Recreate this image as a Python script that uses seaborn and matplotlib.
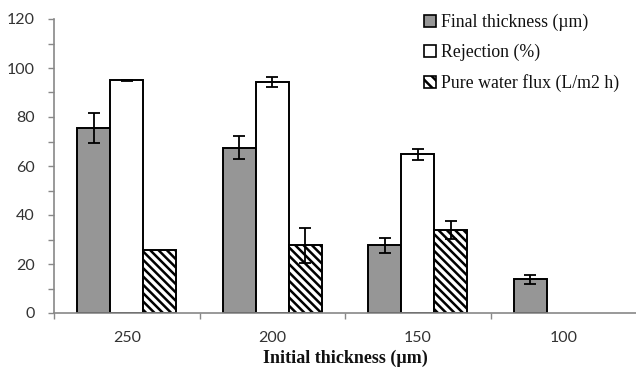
import matplotlib
matplotlib.use("Agg")
import matplotlib.pyplot as plt
import seaborn as sns
import numpy as np
import pandas as pd
from matplotlib.ticker import MultipleLocator, FixedLocator
from matplotlib.patches import Patch, Rectangle

categories = ["250", "200", "150", "100"]
series = ["Final thickness (\u00b5m)", "Rejection (%)", "Pure water flux (L/m2 h)"]
final_thickness = [75.5, 67.5, 27.6, 13.8]
final_err = [6.1, 4.6, 3.2, 1.9]
rejection = [94.9, 94.3, 64.8, np.nan]
rejection_err = [0.3, 2.2, 2.2, np.nan]
flux = [25.6, 27.6, 34.0, np.nan]
flux_err = [0.0, 7.2, 3.7, np.nan]

rows = []
for vals, errs, name in [(final_thickness, final_err, series[0]),
                         (rejection, rejection_err, series[1]),
                         (flux, flux_err, series[2])]:
    for c, v, e in zip(categories, vals, errs):
        if not np.isnan(v):
            rows.append({"cat": c, "series": name, "value": v, "err": e})
df = pd.DataFrame(rows)

sns.set_theme(style="white")
plt.rcParams["font.family"] = ["Liberation Serif", "DejaVu Serif"]
plt.rcParams["hatch.linewidth"] = 1.8

fig = plt.figure(figsize=(6.36, 3.70), dpi=100)
ax = fig.add_axes([54/636, 1 - 313/370, 1 - 54/636, (313 - 19)/370])

W = 0.68
sns.barplot(data=df, x="cat", y="value", hue="series", order=categories,
            hue_order=series, width=W, errorbar=None, ax=ax,
            palette=["#969696", "white", "white"], saturation=1,
            edgecolor="black", linewidth=1.4, legend=False)

HATCH = "\\\\\\\\"
hatches = [None, None, HATCH]
for bar in list(ax.patches):
    if not isinstance(bar, Rectangle) or bar.get_height() <= 0:
        continue
    xc = bar.get_x() + bar.get_width() / 2
    ci = int(round(xc))
    si = int(round((xc - ci) / (W / 3))) + 1
    if si < 0 or si > 2:
        continue
    if hatches[si]:
        bar.set_hatch(hatches[si])
    sub = df[(df["series"] == series[si]) & (df["cat"] == categories[ci])]
    if len(sub) == 0:
        continue
    e = float(sub["err"].iloc[0])
    if e > 0:
        ax.errorbar(xc, bar.get_height(), yerr=e, fmt="none",
                    ecolor="black", elinewidth=1.3, capsize=4,
                    capthick=1.3, zorder=5)

ax.set_ylim(0, 120)
ax.set_xlim(-0.5, 3.5)
ax.yaxis.set_major_locator(MultipleLocator(20))
ax.yaxis.set_minor_locator(MultipleLocator(10))
ax.xaxis.set_minor_locator(FixedLocator([-0.5, 0.5, 1.5, 2.5]))
ax.tick_params(axis="y", which="both", direction="out", length=4,
               color="#888888", width=1, left=True, pad=10)
ax.tick_params(axis="x", which="major", length=0, pad=13)
ax.tick_params(axis="x", which="minor", direction="out", length=4,
               color="#888888", width=1, bottom=True)
for lab in ax.get_xticklabels() + ax.get_yticklabels():
    lab.set_fontfamily(["Lato", "DejaVu Sans"])
    lab.set_fontsize(11.5)
    lab.set_color("#333333")
for s in ["top", "right"]:
    ax.spines[s].set_visible(False)
for s in ["left", "bottom"]:
    ax.spines[s].set_color("#888888")
    ax.spines[s].set_linewidth(1.2)
ax.set_ylabel("")
ax.set_xlabel("Initial thickness (\u00b5m)", fontsize=13, fontweight="bold",
              color="#111111", labelpad=3)

handles = [Patch(facecolor="#969696", edgecolor="black", linewidth=1.2),
           Patch(facecolor="white", edgecolor="black", linewidth=1.2),
           Patch(facecolor="white", edgecolor="black", linewidth=1.2, hatch="\\\\\\")]
fig.legend(handles, series, loc="upper left",
           bbox_to_anchor=(424/636, 1 - 14/370), frameon=False,
           fontsize=12.8, handlelength=0.65, handleheight=0.65,
           handletextpad=0.3, labelspacing=0.72, borderpad=0,
           borderaxespad=0, labelcolor="#111111")

fig.savefig("out.png", dpi=100)
